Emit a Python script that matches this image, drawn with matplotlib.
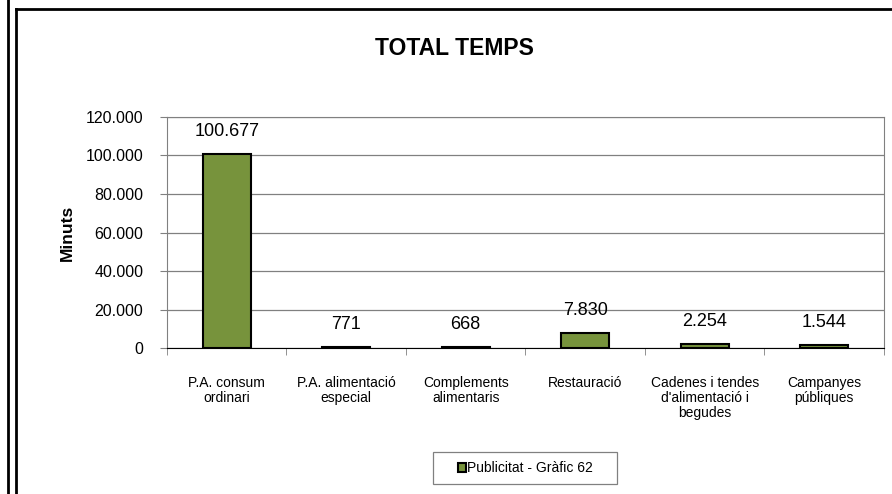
import numpy as np
import matplotlib.pyplot as plt
from matplotlib.lines import Line2D
from matplotlib.patches import Rectangle
from matplotlib.ticker import FuncFormatter, FixedLocator

plt.rcParams['font.family'] = ['Liberation Sans', 'DejaVu Sans']

# Data
categories = ['P.A. consum\nordinari', 'P.A. alimentació\nespecial', 'Complements\nalimentaris',
              'Restauració', 'Cadenes i tendes\nd\'alimentació i\nbegudes', 'Campanyes\npúbliques']
values = [100677, 771, 668, 7830, 2254, 1544]
series_name = 'Publicitat - Gràfic 62'
yticks = [0, 20000, 40000, 60000, 80000, 100000, 120000]

def fmt_thousands(v, pos=None):
    return f'{int(round(v)):,}'.replace(',', '.')

fig = plt.figure(figsize=(8.92, 4.94), dpi=100)
ax = fig.add_axes([0.1872, 0.2955, 0.8038, 0.4677])

x = np.arange(len(categories))
bars = ax.bar(x, values, width=0.4, color='#77933C', edgecolor='black', linewidth=1.5,
              label=series_name, zorder=3)

for xi, v in zip(x, values):
    ax.annotate(fmt_thousands(v), (xi, v), xytext=(0, 10), textcoords='offset points',
                ha='center', va='bottom', fontsize=13)

ax.set_xlim(-0.5, len(categories) - 0.5)
ax.set_ylim(0, 120000)
ax.set_yticks(yticks)
ax.yaxis.set_major_formatter(FuncFormatter(fmt_thousands))
ax.tick_params(axis='y', labelsize=11.5, length=5, pad=12, direction='out', color='#808080')
ax.grid(axis='y', color='#808080', linewidth=0.9, zorder=0)

ax.set_xticks(x)
ax.set_xticklabels(categories, fontsize=10, linespacing=1.1)
ax.tick_params(axis='x', which='major', length=0, pad=20)
ax.xaxis.set_minor_locator(FixedLocator(np.arange(-0.5, len(categories), 1.0)))
ax.tick_params(axis='x', which='minor', length=5, color='#808080')

for side in ['top', 'right', 'left']:
    ax.spines[side].set_color('#808080')
ax.spines['bottom'].set_color('black')

ax.set_ylabel('Minuts', fontsize=12.5, fontweight='bold', labelpad=8)
fig.text(0.51, 0.902, 'TOTAL TEMPS', ha='center', va='center', fontsize=16.5, fontweight='bold')

# Legend (frame drawn separately for wider horizontal padding)
leg = ax.legend(loc='center', bbox_to_anchor=(0.5, -0.52), fontsize=10, frameon=False,
                handlelength=0.6, handleheight=0.6, handletextpad=0.1, borderaxespad=0)
fig.add_artist(Rectangle((433 / 892, 1 - 484 / 494), 184 / 892, 32 / 494, fill=False,
                         edgecolor='#808080', linewidth=0.9, transform=fig.transFigure))

# Outer frame lines
fig.add_artist(Line2D([8 / 892, 8 / 892], [0, 1], color='black', linewidth=2, transform=fig.transFigure))
fig.add_artist(Line2D([16 / 892, 16 / 892], [0, 1 - 9 / 494], color='black', linewidth=2,
                      transform=fig.transFigure))
fig.add_artist(Line2D([16 / 892, 1], [1 - 9 / 494, 1 - 9 / 494], color='black', linewidth=2,
                      transform=fig.transFigure))

fig.savefig('out.png', dpi=100)
